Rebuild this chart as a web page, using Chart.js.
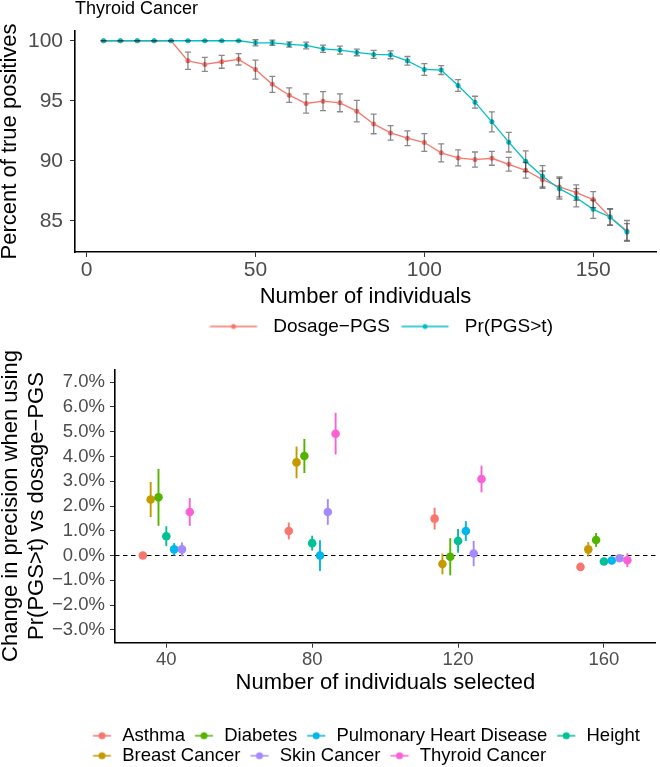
<!DOCTYPE html>
<html>
<head>
<meta charset="utf-8">
<script src="https://cdn.jsdelivr.net/npm/chart.js@4.4.1/dist/chart.umd.min.js"></script>
<style>
  html, body { margin: 0; padding: 0; background: #fff; width: 660px; height: 767px; overflow: hidden; }
  #topBox { position: absolute; left: 0; top: 0; width: 660px; height: 346px; }
  #bottomBox { position: absolute; left: 0; top: 345px; width: 660px; height: 430px; }
</style>
</head>
<body>
<div id="topBox"><canvas id="topChart"></canvas></div>
<div id="bottomBox"><canvas id="bottomChart"></canvas></div>
<script>
// ---- top panel: Thyroid Cancer, percent of true positives ----
const nIndividuals = [5, 10, 15, 20, 25, 30, 35, 40, 45, 50, 55, 60, 65, 70, 75, 80,
                      85, 90, 95, 100, 105, 110, 115, 120, 125, 130, 135, 140, 145, 150, 155, 160];
const dosageVals = [100, 100, 100, 100, 100, 98.33, 98.03, 98.25, 98.45, 97.6, 96.37, 95.47, 94.78, 94.97, 94.83, 94.14,
                    93.08, 92.33, 91.89, 91.53, 90.67, 90.25, 90.11, 90.22, 89.72, 89.22, 88.44, 87.83, 87.36, 86.78, 85.33, 84.17];
const dosageErr = [0, 0, 0, 0, 0, 0.72, 0.58, 0.54, 0.47, 0.79, 0.67, 0.6, 0.8, 0.79, 0.74, 0.9,
                   0.82, 0.6, 0.61, 0.74, 0.75, 0.67, 0.63, 0.58, 0.57, 0.65, 0.72, 0.83, 0.64, 0.67, 0.67, 0.87];
const prVals = [100, 100, 100, 100, 100, 100, 100, 100, 100, 99.83, 99.83, 99.69, 99.61, 99.33, 99.22, 99.03,
                98.86, 98.83, 98.33, 97.61, 97.56, 96.28, 94.89, 93.25, 91.56, 89.97, 88.72, 87.69, 86.94, 85.97, 85.33, 84.08];
const prErr = [0, 0, 0, 0, 0, 0, 0, 0, 0, 0.25, 0.22, 0.22, 0.28, 0.3, 0.33, 0.28,
               0.33, 0.33, 0.36, 0.49, 0.37, 0.49, 0.49, 0.83, 0.82, 0.87, 0.89, 0.86, 0.76, 0.76, 0.68, 0.7];
const topXTicks = [0, 50, 100, 150];
const topYTicks = [85, 90, 95, 100];

// ---- bottom panel: change in precision ----
const diseases = ['Asthma', 'Breast Cancer', 'Diabetes', 'Height', 'Pulmonary Heart Disease', 'Skin Cancer', 'Thyroid Cancer'];
const diseaseColors = ['#F8766D', '#C49A00', '#53B400', '#00C094', '#00B6EB', '#A58AFF', '#FB61D7'];
const legendOrder = ['Asthma', 'Diabetes', 'Pulmonary Heart Disease', 'Height', 'Breast Cancer', 'Skin Cancer', 'Thyroid Cancer'];
const sizeGroups = [40, 80, 120, 160];
const changeAsthma = [0.0, 0.99, 1.49, -0.46];
const changeBreast = [2.26, 3.76, -0.34, 0.25];
const changeDiabetes = [2.35, 4.02, -0.05, 0.63];
const changeHeight = [0.78, 0.5, 0.59, -0.24];
const changePulmonary = [0.25, 0.0, 0.99, -0.2];
const changeSkin = [0.25, 1.76, 0.08, -0.11];
const changeThyroid = [1.76, 4.92, 3.09, -0.19];
const errAsthma = [0.04, 0.34, 0.44, 0.05];
const errBreast = [0.71, 0.64, 0.42, 0.29];
const errDiabetes = [1.15, 0.69, 0.75, 0.28];
const errHeight = [0.4, 0.3, 0.48, 0.05];
const errPulmonary = [0.25, 0.62, 0.4, 0.08];
const errSkin = [0.28, 0.52, 0.51, 0.08];
const errThyroid = [0.56, 0.84, 0.54, 0.28];
const bottomYTicks = [-3, -2, -1, 0, 1, 2, 3, 4, 5, 6, 7];

const RED = '#F8766D';
const CYAN = '#00BFC4';
const DODGE = 15; // position_dodge width, in x units

Chart.defaults.font.family = "'Liberation Sans', Arial, Helvetica, sans-serif";
Chart.defaults.color = '#4d4d4d';

// errorbars with caps, drawn on top of the lines
const capBars = {
    id: 'capBars',
    afterDatasetsDraw(chart) {
        const { ctx, scales: { x, y } } = chart;
        ctx.save();
        ctx.strokeStyle = 'rgba(40,40,40,0.55)';
        ctx.lineWidth = 1.3;
        chart.data.datasets.forEach(ds => {
            ds.data.forEach((p, i) => {
                const e = ds.errors[i];
                const px = x.getPixelForValue(p.x);
                const y1 = y.getPixelForValue(p.y + e);
                const y2 = y.getPixelForValue(p.y - e);
                ctx.beginPath();
                ctx.moveTo(px, y1); ctx.lineTo(px, y2);
                ctx.moveTo(px - 3, y1); ctx.lineTo(px + 3, y1);
                ctx.moveTo(px - 3, y2); ctx.lineTo(px + 3, y2);
                ctx.stroke();
            });
        });
        ctx.restore();
    }
};

// pointrange lines + dashed zero line, under the points
const rangeBars = {
    id: 'rangeBars',
    beforeDatasetsDraw(chart) {
        const { ctx, chartArea: { left, right }, scales: { x, y } } = chart;
        ctx.save();
        const y0 = y.getPixelForValue(0);
        ctx.strokeStyle = '#000';
        ctx.lineWidth = 1.1;
        ctx.setLineDash([4.5, 3.5]);
        ctx.beginPath(); ctx.moveTo(left, y0); ctx.lineTo(right, y0); ctx.stroke();
        ctx.setLineDash([]);
        ctx.lineWidth = 1.9;
        chart.data.datasets.forEach(ds => {
            ctx.strokeStyle = ds.backgroundColor;
            ds.data.forEach((p, i) => {
                const e = ds.errors[i];
                const px = x.getPixelForValue(p.x);
                ctx.beginPath();
                ctx.moveTo(px, y.getPixelForValue(p.y + e));
                ctx.lineTo(px, y.getPixelForValue(p.y - e));
                ctx.stroke();
            });
        });
        ctx.restore();
    }
};

// ggplot puts the legend block off-centre; slide the legend box sideways after layout
const legendShift = {
    id: 'legendShift',
    afterLayout(chart, args, opts) {
        const lg = chart.legend;
        if (!lg || !opts.dx) return;
        lg.left += opts.dx;
        lg.right += opts.dx;
    }
};

function lineKey(color) {
    const c = document.createElement('canvas');
    c.width = 50; c.height = 8;
    const g = c.getContext('2d');
    g.strokeStyle = color; g.lineWidth = 1.3;
    g.beginPath(); g.moveTo(1.5, 4); g.lineTo(48.5, 4); g.stroke();
    g.fillStyle = color;
    g.beginPath(); g.arc(25, 4, 2.5, 0, Math.PI * 2); g.fill();
    return c;
}

function rangeKey(color) {
    const c = document.createElement('canvas');
    c.width = 36; c.height = 12;
    const g = c.getContext('2d');
    const cx = 21.25;
    g.strokeStyle = color; g.lineWidth = 1.5;
    g.beginPath(); g.moveTo(cx - 9, 6); g.lineTo(cx + 9, 6); g.stroke();
    g.fillStyle = color;
    g.beginPath(); g.arc(cx, 6, 3.5, 0, Math.PI * 2); g.fill();
    return c;
}

const axisTickGrid = { display: true, drawOnChartArea: false, drawTicks: true, tickLength: 5, color: '#333' };
const axisBorder = { display: true, color: '#000', width: 1.6 };

const topKeys = [lineKey(RED), lineKey(CYAN)];

new Chart(document.getElementById('topChart'), {
    type: 'line',
    data: {
        datasets: [
            {
                label: 'Dosage\u2212PGS',
                data: nIndividuals.map((n, i) => ({ x: n, y: dosageVals[i] })),
                errors: dosageErr,
                borderColor: RED, backgroundColor: RED, pointBackgroundColor: RED,
                borderWidth: 1.3, pointRadius: 2.5, pointBorderWidth: 0, order: 2
            },
            {
                label: 'Pr(PGS>t)',
                data: nIndividuals.map((n, i) => ({ x: n, y: prVals[i] })),
                errors: prErr,
                borderColor: CYAN, backgroundColor: CYAN, pointBackgroundColor: CYAN,
                borderWidth: 1.3, pointRadius: 2.5, pointBorderWidth: 0, order: 1
            }
        ]
    },
    plugins: [capBars, legendShift],
    options: {
        responsive: true,
        maintainAspectRatio: false,
        animation: false,
        devicePixelRatio: 1,
        layout: { padding: 0 },
        scales: {
            x: {
                type: 'linear', min: -3.44, max: 168.6,
                afterBuildTicks: ax => { ax.ticks = topXTicks.map(v => ({ value: v })); },
                afterFit: ax => { ax.height = 60.3; },
                grid: axisTickGrid, border: axisBorder,
                ticks: { font: { size: 21 }, color: '#4d4d4d', padding: 0.4, maxRotation: 0 },
                title: { display: true, text: 'Number of individuals', color: '#000', font: { size: 22 }, padding: { top: 0, bottom: 2.1 } }
            },
            y: {
                type: 'linear', min: 82.42, max: 100.81,
                afterBuildTicks: ax => { ax.ticks = topYTicks.map(v => ({ value: v })); },
                afterFit: ax => { ax.width = 75; },
                grid: axisTickGrid, border: axisBorder,
                ticks: { font: { size: 21 }, color: '#4d4d4d', padding: 7 },
                title: { display: true, text: 'Percent of true positives', color: '#000', font: { size: 22 }, padding: { top: -3.4, bottom: 0 } }
            }
        },
        plugins: {
            title: {
                display: true, text: 'Thyroid Cancer', align: 'start', fullSize: false,
                color: '#000', font: { size: 18, weight: 'normal' }, padding: { top: -2.1, bottom: 11.5 }
            },
            legend: {
                position: 'bottom', align: 'start',
                labels: {
                    usePointStyle: true, pointStyleWidth: 60.6, padding: 4.7,
                    font: { size: 19 }, color: '#000',
                    generateLabels: chart => chart.data.datasets.map((ds, i) => ({
                        text: ds.label, pointStyle: topKeys[i], fillStyle: ds.borderColor,
                        strokeStyle: ds.borderColor, lineWidth: 0, hidden: false, datasetIndex: i, fontColor: '#000'
                    }))
                }
            },
            legendShift: { dx: 198.5 },
            tooltip: { enabled: false }
        }
    }
});

const changeVals = [changeAsthma, changeBreast, changeDiabetes, changeHeight, changePulmonary, changeSkin, changeThyroid];
const changeErrs = [errAsthma, errBreast, errDiabetes, errHeight, errPulmonary, errSkin, errThyroid];
const bottomKeys = diseaseColors.map(rangeKey);

new Chart(document.getElementById('bottomChart'), {
    type: 'scatter',
    data: {
        datasets: diseases.map((name, i) => ({
            label: name,
            data: sizeGroups.map((g, j) => ({ x: g + (i - 3) * DODGE / 7, y: changeVals[i][j] })),
            errors: changeErrs[i],
            backgroundColor: diseaseColors[i],
            borderWidth: 0,
            pointRadius: 4.3,
            order: diseases.length - i
        }))
    },
    plugins: [rangeBars, legendShift],
    options: {
        responsive: true,
        maintainAspectRatio: false,
        animation: false,
        devicePixelRatio: 1,
        layout: { padding: { left: 0, top: 24.3, right: 0, bottom: 0 } },
        scales: {
            x: {
                type: 'linear', min: 25.93, max: 174.2,
                afterBuildTicks: ax => { ax.ticks = sizeGroups.map(v => ({ value: v })); },
                afterFit: ax => { ax.height = 82.3; },
                grid: axisTickGrid, border: axisBorder,
                ticks: { font: { size: 18.5 }, color: '#4d4d4d', padding: 1.2, maxRotation: 0 },
                title: { display: true, text: 'Number of individuals selected', color: '#000', font: { size: 22 }, padding: { top: 0, bottom: 28.8 } }
            },
            y: {
                type: 'linear', min: -3.52, max: 7.52,
                afterBuildTicks: ax => { ax.ticks = bottomYTicks.map(v => ({ value: v })); },
                afterFit: ax => { ax.width = 115; },
                grid: axisTickGrid, border: axisBorder,
                ticks: {
                    font: { size: 18.5 }, color: '#4d4d4d', padding: 5,
                    callback: v => (v < 0 ? '\u2212' : '') + Math.abs(v).toFixed(1) + '%'
                },
                title: {
                    display: true,
                    text: ['Change in precision when using', 'Pr(PGS>t) vs dosage\u2212PGS'],
                    color: '#000', font: { size: 22 }, padding: { top: -2.2, bottom: 0 }
                }
            }
        },
        plugins: {
            legend: {
                position: 'bottom', align: 'start',
                labels: {
                    usePointStyle: true, pointStyleWidth: 28.5, padding: 1.5,
                    font: { size: 18.5 }, color: '#000',
                    generateLabels: () => legendOrder.map(name => {
                        const i = diseases.indexOf(name);
                        return {
                            text: name, pointStyle: bottomKeys[i], fillStyle: diseaseColors[i],
                            strokeStyle: diseaseColors[i], lineWidth: 0, hidden: false, datasetIndex: i, fontColor: '#000'
                        };
                    })
                }
            },
            legendShift: { dx: 83 },
            tooltip: { enabled: false }
        }
    }
});
</script>
</body>
</html>
